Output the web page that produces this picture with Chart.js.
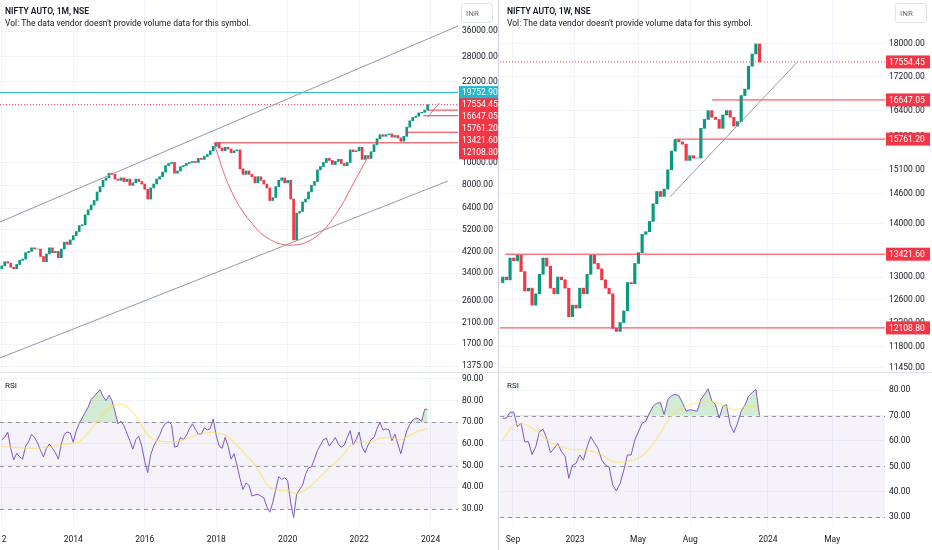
<!DOCTYPE html>
<html>
<head>
<meta charset="utf-8">
<script src="https://cdn.jsdelivr.net/npm/chart.js@4.4.1/dist/chart.umd.min.js"></script>
<style>
  body { margin: 0; background: #fff; font-family: Roboto, "DejaVu Sans", sans-serif; }
  #wrap { position: relative; width: 932px; height: 550px; overflow: hidden; }
  .pane { position: absolute; }
  .txt { position: absolute; font-size: 8.5px; color: #131722; white-space: nowrap; }
  .ttl { font-weight: 600; }
  .inr { position: absolute; width: 32px; height: 20px; border: 1px solid #e0e3eb; border-radius: 3px;
         font-size: 8px; color: #6a6d78; line-height: 20px; padding-left: 4px; box-sizing: border-box; }
  .sep { position: absolute; background: #d1d4dc; }
</style>
</head>
<body>
<div id="wrap">
  <div class="pane" style="left:0;top:0;width:500px;height:372px"><canvas id="leftMain"></canvas></div>
  <div class="pane" style="left:0;top:372px;width:500px;height:178px"><canvas id="leftRsi"></canvas></div>
  <div class="pane" style="left:500px;top:0;width:432px;height:372px"><canvas id="rightMain"></canvas></div>
  <div class="pane" style="left:500px;top:372px;width:432px;height:178px"><canvas id="rightRsi"></canvas></div>
  <div class="sep" style="left:498px;top:0;width:1px;height:550px"></div>
  <div class="sep" style="left:0;top:372px;width:932px;height:1px;background:#e0e3eb"></div>

  <div class="txt ttl" style="left:5px;top:6px">NIFTY AUTO, 1M, NSE</div>
  <div class="txt" style="left:5px;top:18px">Vol: The data vendor doesn't provide volume data for this symbol.</div>
  <div class="txt ttl" style="left:507px;top:6px">NIFTY AUTO, 1W, NSE</div>
  <div class="txt" style="left:507px;top:18px">Vol: The data vendor doesn't provide volume data for this symbol.</div>
  <div class="inr" style="left:461px;top:3px">INR</div>
  <div class="inr" style="left:895px;top:3px">INR</div>
  <div class="txt" style="left:5px;top:381px;font-size:8px">RSI</div>
  <div class="txt" style="left:507px;top:381px;font-size:8px">RSI</div>
</div>

<script>
// ---- Monthly (left) data: index 0 = Jan 2012 ----
const monthFirstOpen = 3550;
const monthClose = [
  3650, 3800, 3750, 3600, 3550, 3700, 3850, 3900, 4150, 4200, 4350, 4300,
  4300, 4000, 3800, 4100, 4350, 4150, 4200, 3950, 4300, 4600, 4500, 4700,
  4900, 5100, 5400, 5450, 6000, 6300, 6600, 6900, 7500, 7900, 8400, 8600,
  9000, 8900, 8500, 8400, 8600, 8300, 8500, 8000, 8200, 8500, 8300, 8100,
  7700, 7000, 7800, 8100, 8500, 8700, 9100, 9700, 9900, 10000, 9000, 9200,
  9600, 9700, 9900, 10000, 10100, 10000, 10400, 10300, 10600, 10800, 11200, 11700,
  12100, 11500, 11200, 11600, 11400, 11000, 11200, 11300, 9400, 8900, 9200, 8900,
  8700, 8200, 8700, 8400, 8100, 7800, 6900, 7100, 7900, 8400, 8600, 8200,
  8400, 7000, 4700, 6100, 6200, 6800, 7000, 7500, 8000, 8300, 9300, 9600,
  10000, 10400, 10200, 9800, 10100, 10300, 9900, 9700, 10000, 11300, 11100, 11200,
  11600, 10300, 10700, 10400, 11100, 11900, 12600, 13100, 12900, 13100, 13200, 12800,
  13000, 12700, 12300, 12900, 14100, 15000, 15500, 15700, 16200, 16300, 16647, 17554.45
];
const monthRsi = [
  62, 63, 65.5, 58, 52.6, 55.7, 54, 53, 59, 61, 64.5, 63,
  60.5, 57, 54, 58, 60, 58, 56, 53, 60, 64.5, 65.5, 65,
  60.8, 66, 69.5, 72, 74.5, 77, 80.5, 82, 83.5, 85, 82, 80,
  82.5, 80, 75, 69.3, 70.5, 68.5, 65, 61.5, 57.6, 62, 63.5, 59,
  52, 46.8, 55, 59, 61.5, 64, 67.5, 69.5, 70.3, 69, 58.5, 59,
  63, 62, 64, 67, 69.3, 66.8, 64.5, 64.5, 67.5, 66.5, 67, 71.5,
  64, 59, 58, 63, 59, 53, 55.5, 50, 44, 39, 42, 41,
  36, 36.5, 36.7, 36, 35.2, 31, 28.5, 33, 39, 45, 43.6, 44.5,
  43, 33, 26, 36.7, 39, 41, 46, 49, 49.5, 53, 57, 59.5,
  62, 62.5, 59, 61, 63, 60, 58.5, 59.5, 63, 66.2, 59.5, 62,
  65.5, 58.5, 56, 59.5, 62, 63, 67, 70, 66.5, 67, 66.5, 61.5,
  64.5, 60, 55.5, 61, 66, 69, 71, 72, 71.5, 70.5, 76, 76
];
const monthMaIdx = [0, 11, 17, 22, 26, 30, 35, 38, 41, 45, 48, 51, 56, 60, 64, 68, 71, 75, 77, 80, 84, 87, 90, 94, 96, 99, 101, 104, 107, 110, 114, 117, 120, 124, 127, 130, 134, 137, 140, 143];
const monthMaVal = [59, 58, 59, 60, 61, 67, 75, 78, 78, 73, 66, 62, 61, 61.5, 63.5, 65, 65.5, 64, 62, 58, 52, 46, 40, 38.5, 38.5, 37, 38, 41, 45, 49, 54, 59, 61, 61, 62.5, 63, 62, 64, 66, 67];
const monthTickPos = [0, 24, 48, 72, 96, 120, 144];
const monthTickLabels = ['12', '2014', '2016', '2018', '2020', '2022', '2024'];
const leftPriceTicks = [1375, 1700, 2100, 2600, 3400, 4200, 5200, 6400, 8000, 10000, 22000, 28000, 36000];
const cupIdx = [71.2, 76.9, 83.6, 90.3, 98, 105.4, 112, 118.7, 122.7];
const cupVal = [12108.8, 7640, 5600, 4700, 4470, 4835, 5990, 8420, 10440];

// ---- Weekly (right) data: index 0 = late Aug 2022 ----
const weekFirstOpen = 12900;
const weekClose = [
  13000, 12950, 13350, 13300, 13400, 13100, 12750, 12800, 12500, 12700,
  13050, 13350, 13200, 12800, 12700, 13000, 12950, 12800, 12300, 12500,
  12450, 12800, 12700, 13050, 13400, 13250, 13150, 12950, 12800, 12700,
  12100, 12050, 12200, 12400, 12900, 12880, 13250, 13450, 13800, 13850,
  14050, 14400, 14650, 14550, 14700, 15100, 15500, 15750, 15700, 15650,
  15300, 15400, 15350, 15350, 16000, 16200, 16400, 16250, 16200, 16000,
  16300, 16400, 16250, 16050, 16150, 16750, 16900, 17450, 17750, 18000,
  17554.45
];
const weekRsi = [
  68.9, 69, 71.3, 71.3, 65.6, 67, 59.7, 59.7, 54.7, 57.7,
  63.6, 64.6, 61, 55.4, 57, 59, 55.8, 54.1, 45.3, 50.5,
  51.2, 54.5, 52.5, 57.7, 61.7, 59.3, 57, 52.5, 50.5, 49.8,
  42.6, 40.4, 43.3, 48.5, 54.5, 54.5, 60.4, 63.6, 67, 67.7,
  71, 73.6, 74.9, 75, 70.4, 76.3, 77.8, 78.3, 77.8, 75,
  71.7, 72.3, 72, 71.7, 76.3, 78.3, 80.5, 75.7, 74.3, 69,
  73.6, 74.3, 66.4, 63.3, 67, 71.7, 74, 77.6, 79, 80.3,
  70
];
const weekMaIdx = [0, 3.8, 8.4, 12.9, 17.5, 22.9, 26.5, 30.2, 35.6, 39.3, 42.9, 46.5, 50.2, 54.7, 58.4, 62.9, 66.5, 69.3];
const weekMaVal = [60.4, 66.8, 64.7, 59.5, 57, 56.4, 55, 51.8, 52.5, 55.8, 62.9, 70.8, 73.6, 75.5, 75, 72.3, 73.6, 73.6];
const weekTickPos = [2.8, 19.7, 36.9, 51.1, 72.3, 89.8];
const weekTickLabels = ['Sep', '2023', 'May', 'Aug', '2024', 'May'];
const rightPriceTicks = [11450, 11800, 12200, 12600, 13000, 14000, 14600, 15100, 15800, 16400, 17200, 18000];

// ---- Levels ----
const lvlClose = 17554.45;
const lvlHigh = 16647.05;
const lvlMid = 15761.20;
const lvlCup = 13421.60;
const lvlBase = 12108.80;
const lvlCyan = 19752.90;

const UP = '#089981', DOWN = '#f23645', GRID = '#f0f3fa', FONT = "Roboto, 'DejaVu Sans', sans-serif";
const AXIS_FONT = { family: FONT, size: 8.5 };

function candles(first, closes) {
    return closes.map((c, i) => {
        const o = i === 0 ? first : closes[i - 1];
        return { x: i, y: [o, c] };
    });
}

function seg(x0, x1, y0, y1, color, dash, width) {
    return {
        type: 'line',
        data: [{ x: x0, y: y0 }, { x: x1, y: y1 }],
        borderColor: color,
        borderWidth: width || 1,
        borderDash: dash || [],
        pointRadius: 0,
        fill: false
    };
}

// strip the automatic label overhang padding so chart areas match the panes
function noPad(s) {
    s.paddingLeft = 0; s.paddingRight = 0; s.paddingTop = 0; s.paddingBottom = 0;
}

// price labels on the right axis
const priceLabelPlugin = {
    id: 'priceLabels',
    afterDraw(chart, args, opts) {
        const ctx = chart.ctx, y = chart.scales.y, area = chart.chartArea;
        ctx.save();
        ctx.font = '8.5px ' + FONT;
        ctx.textBaseline = 'middle';
        let base = null;
        opts.labels.forEach(l => {
            let py = y.getPixelForValue(l.value);
            if (l.stack !== undefined) {
                if (base === null) base = py;
                py = base + l.stack * 12;
            }
            ctx.fillStyle = l.color;
            ctx.fillRect(area.right + 1, py - 6.5, opts.boxWidth, 13);
            ctx.fillStyle = '#fff';
            ctx.fillText(l.value.toFixed(2), area.right + 4, py + 0.5);
        });
        ctx.restore();
    }
};

// RSI band + dashed levels
const rsiBandPlugin = {
    id: 'rsiBand',
    beforeDatasetsDraw(chart) {
        const ctx = chart.ctx, y = chart.scales.y, a = chart.chartArea;
        ctx.save();
        ctx.fillStyle = 'rgba(126,87,194,0.08)';
        ctx.fillRect(a.left, y.getPixelForValue(70), a.width, y.getPixelForValue(30) - y.getPixelForValue(70));
        ctx.strokeStyle = '#9598a1';
        ctx.setLineDash([4, 4]);
        ctx.lineWidth = 1;
        [70, 50, 30].forEach(v => {
            const py = Math.round(y.getPixelForValue(v)) + 0.5;
            ctx.beginPath();
            ctx.moveTo(a.left, py);
            ctx.lineTo(a.right, py);
            ctx.stroke();
        });
        ctx.restore();
    }
};

function priceChart(id, c) {
    const data = candles(c.firstOpen, c.closes);
    return new Chart(document.getElementById(id), {
        type: 'bar',
        data: {
            datasets: [
                ...c.lines,
                {
                    type: 'bar',
                    data: data,
                    backgroundColor: data.map(d => d.y[1] >= d.y[0] ? UP : DOWN),
                    barThickness: c.barThickness,
                    grouped: false
                }
            ]
        },
        options: {
            responsive: true,
            maintainAspectRatio: false,
            animation: false,
            layout: { padding: 0 },
            plugins: {
                legend: { display: false },
                tooltip: { enabled: false },
                priceLabels: { labels: c.labels, boxWidth: c.axisWidth - 3 }
            },
            scales: {
                x: {
                    type: 'linear',
                    offset: false,
                    min: c.xMin,
                    max: c.xMax,
                    afterBuildTicks: s => { s.ticks = c.xTicks.map(v => ({ value: v })); },
                    afterFit: s => { s.height = 0; noPad(s); },
                    ticks: { display: false },
                    grid: { color: GRID, drawTicks: false, offset: false },
                    border: { display: false }
                },
                y: {
                    type: 'logarithmic',
                    position: 'right',
                    bounds: 'data',
                    min: c.yMin,
                    max: c.yMax,
                    afterBuildTicks: s => { s.ticks = c.yTicks.map(v => ({ value: v })); },
                    afterFit: s => { s.width = c.axisWidth; noPad(s); },
                    ticks: {
                        color: '#131722',
                        font: AXIS_FONT,
                        padding: 4,
                        callback: v => Number(v).toFixed(2)
                    },
                    grid: { color: GRID, drawTicks: false },
                    border: { display: false }
                }
            }
        },
        plugins: [priceLabelPlugin]
    });
}

function rsiChart(id, c) {
    return new Chart(document.getElementById(id), {
        type: 'line',
        data: {
            datasets: [
                {
                    data: c.maIdx.map((x, i) => ({ x: x, y: c.maVal[i] })),
                    borderColor: 'rgba(250,225,80,0.55)',
                    borderWidth: 1.5,
                    pointRadius: 0,
                    tension: 0.4,
                    fill: false
                },
                {
                    data: c.rsi.map((v, i) => ({ x: i, y: v })),
                    borderColor: '#7e57c2',
                    borderWidth: 1,
                    pointRadius: 0,
                    fill: { target: { value: 70 }, above: 'rgba(76,175,80,0.25)', below: 'rgba(0,0,0,0)' }
                }
            ]
        },
        options: {
            responsive: true,
            maintainAspectRatio: false,
            animation: false,
            layout: { padding: 0 },
            plugins: { legend: { display: false }, tooltip: { enabled: false } },
            scales: {
                x: {
                    type: 'linear',
                    min: c.xMin,
                    max: c.xMax,
                    afterBuildTicks: s => { s.ticks = c.xTicks.map(v => ({ value: v })); },
                    afterFit: s => { s.height = 23; noPad(s); },
                    ticks: {
                        color: '#131722',
                        font: AXIS_FONT,
                        maxRotation: 0,
                        autoSkip: false,
                        padding: 8,
                        callback: (v, i) => c.xLabels[i]
                    },
                    grid: { color: GRID, drawTicks: false },
                    border: { display: false }
                },
                y: {
                    position: 'right',
                    min: c.yMin,
                    max: c.yMax,
                    afterBuildTicks: s => { s.ticks = c.yTicks.map(v => ({ value: v })); },
                    afterFit: s => { s.width = c.axisWidth; noPad(s); },
                    ticks: {
                        color: '#131722',
                        font: AXIS_FONT,
                        padding: 4,
                        callback: v => Number(v).toFixed(2)
                    },
                    grid: { color: GRID, drawTicks: false },
                    border: { display: false }
                }
            }
        },
        plugins: [rsiBandPlugin]
    });
}

// ---- Left: monthly ----
const leftXMax = 153.2;
priceChart('leftMain', {
    firstOpen: monthFirstOpen,
    closes: monthClose,
    barThickness: 2,
    xMin: -0.6, xMax: leftXMax,
    yMin: 1297, yMax: 48700,
    yTicks: leftPriceTicks,
    xTicks: monthTickPos,
    axisWidth: 42,
    lines: [
        seg(-0.6, leftXMax, 5596, 37800, '#9598a1'),
        seg(-0.6, 149.8, 1487, 8344, '#9598a1'),
        seg(-0.6, leftXMax, lvlCyan, lvlCyan, '#22b8cf'),
        seg(-0.6, leftXMax, lvlClose, lvlClose, DOWN, [1, 2]),
        seg(143, leftXMax, lvlHigh, lvlHigh, DOWN),
        seg(141.6, leftXMax, lvlMid, lvlMid, DOWN),
        seg(135.6, leftXMax, lvlCup, lvlCup, DOWN),
        seg(71.4, leftXMax, lvlBase, lvlBase, DOWN),
        seg(143, 147, 15560, 17850, '#9598a1'),
        {
            type: 'line',
            data: cupIdx.map((x, i) => ({ x: x, y: cupVal[i] })),
            borderColor: '#f06272',
            borderWidth: 1,
            pointRadius: 0,
            tension: 0.4,
            fill: false
        }
    ],
    labels: [
        { value: lvlCyan, color: '#22b8cf' },
        { value: lvlClose, color: DOWN, stack: 0 },
        { value: lvlHigh, color: DOWN, stack: 1 },
        { value: lvlMid, color: DOWN, stack: 2 },
        { value: lvlCup, color: DOWN, stack: 3 },
        { value: lvlBase, color: DOWN, stack: 4 }
    ]
});
rsiChart('leftRsi', {
    rsi: monthRsi, maIdx: monthMaIdx, maVal: monthMaVal,
    xMin: -0.6, xMax: leftXMax,
    xTicks: monthTickPos, xLabels: monthTickLabels,
    yMin: 21.7, yMax: 93.2, yTicks: [30, 40, 50, 60, 70, 80, 90],
    axisWidth: 42
});

// ---- Right: weekly ----
const rightXMax = 104.2;
priceChart('rightMain', {
    firstOpen: weekFirstOpen,
    closes: weekClose,
    barThickness: 2.5,
    xMin: -0.74, xMax: rightXMax,
    yMin: 11386, yMax: 19140,
    yTicks: rightPriceTicks,
    xTicks: weekTickPos,
    axisWidth: 47,
    lines: [
        seg(45.6, 80.3, 14540, 17550, '#9598a1'),
        seg(-0.74, rightXMax, lvlClose, lvlClose, DOWN, [1, 2]),
        seg(57, rightXMax, lvlHigh, lvlHigh, DOWN),
        seg(47, rightXMax, lvlMid, lvlMid, DOWN),
        seg(0.6, rightXMax, lvlCup, lvlCup, DOWN),
        seg(-0.74, rightXMax, lvlBase, lvlBase, DOWN)
    ],
    labels: [
        { value: lvlClose, color: DOWN },
        { value: lvlHigh, color: DOWN },
        { value: lvlMid, color: DOWN },
        { value: lvlCup, color: DOWN },
        { value: lvlBase, color: DOWN }
    ]
});
rsiChart('rightRsi', {
    rsi: weekRsi, maIdx: weekMaIdx, maVal: weekMaVal,
    xMin: -0.74, xMax: rightXMax,
    xTicks: weekTickPos, xLabels: weekTickLabels,
    yMin: 26.2, yMax: 87.1, yTicks: [30, 40, 50, 60, 70, 80],
    axisWidth: 47
});
</script>
</body>
</html>
